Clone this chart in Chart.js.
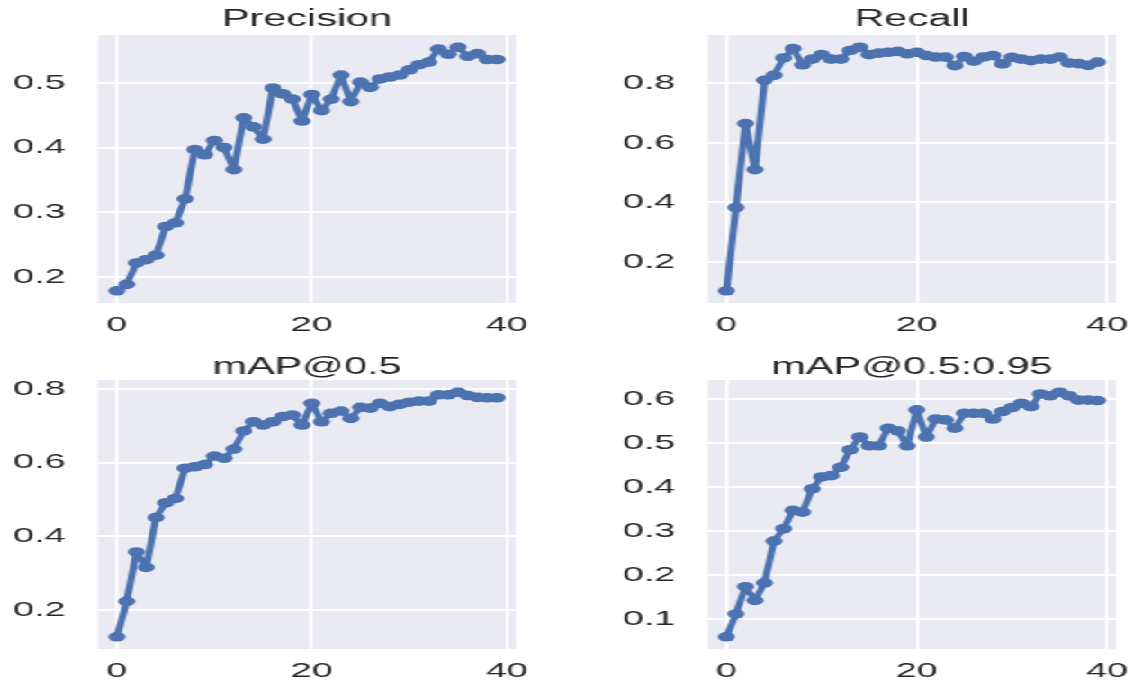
<!DOCTYPE html>
<html>
<head>
<meta charset="utf-8">
<script src="https://cdn.jsdelivr.net/npm/chart.js@4.4.1/dist/chart.umd.min.js"></script>
<style>
  body { margin: 0; background: #fff; }
  /* the reference figure is stretched sideways, so the whole stage is too */
  #stage { position: absolute; left: 0; top: 0; width: 637px; height: 684px; transform: scaleX(1.8); transform-origin: 0 0; }
  canvas { position: absolute; }
</style>
</head>
<body>
<div id="stage">
  <canvas id="c0" width="318" height="342" style="left:0;top:0"></canvas>
  <canvas id="c1" width="319" height="342" style="left:318px;top:0"></canvas>
  <canvas id="c2" width="318" height="342" style="left:0;top:342px"></canvas>
  <canvas id="c3" width="319" height="342" style="left:318px;top:342px"></canvas>
</div>
<script>
const precision = [0.179, 0.189, 0.222, 0.227, 0.234, 0.278, 0.284, 0.321, 0.397, 0.389,
  0.411, 0.400, 0.366, 0.446, 0.432, 0.413, 0.492, 0.483, 0.475, 0.441,
  0.482, 0.457, 0.475, 0.512, 0.471, 0.501, 0.493, 0.506, 0.509, 0.512,
  0.520, 0.528, 0.532, 0.552, 0.544, 0.555, 0.541, 0.545, 0.536, 0.536];
const recall = [0.104, 0.383, 0.664, 0.510, 0.809, 0.826, 0.884, 0.915, 0.861, 0.880,
  0.895, 0.880, 0.880, 0.909, 0.920, 0.895, 0.900, 0.903, 0.906, 0.898,
  0.903, 0.892, 0.887, 0.887, 0.858, 0.889, 0.873, 0.887, 0.892, 0.864,
  0.886, 0.880, 0.875, 0.880, 0.880, 0.887, 0.867, 0.865, 0.859, 0.870];
const map50 = [0.128, 0.224, 0.358, 0.316, 0.451, 0.491, 0.503, 0.585, 0.589, 0.595,
  0.618, 0.612, 0.637, 0.686, 0.711, 0.702, 0.711, 0.725, 0.729, 0.702,
  0.761, 0.711, 0.734, 0.740, 0.720, 0.750, 0.748, 0.761, 0.752, 0.758,
  0.764, 0.767, 0.767, 0.784, 0.784, 0.791, 0.782, 0.777, 0.776, 0.776];
const map5095 = [0.059, 0.111, 0.173, 0.142, 0.182, 0.277, 0.305, 0.347, 0.343, 0.396,
  0.423, 0.426, 0.445, 0.485, 0.514, 0.494, 0.494, 0.534, 0.528, 0.494,
  0.576, 0.514, 0.555, 0.553, 0.534, 0.568, 0.568, 0.568, 0.555, 0.572,
  0.581, 0.591, 0.583, 0.612, 0.608, 0.616, 0.608, 0.598, 0.598, 0.597];
const titles = ["Precision", "Recall", "mAP@0.5", "mAP@0.5:0.95"];
const xTicks = [0, 20, 40];

const FONT = '"Liberation Sans", Arial, sans-serif';
const BLUE = "#4C72B0";
const TEXT = "#262626";

// seaborn darkgrid panel background
const panelBg = {
  id: "panelBg",
  beforeDraw(chart) {
    const { ctx, chartArea: a } = chart;
    ctx.save();
    ctx.fillStyle = "#EAEAF2";
    ctx.fillRect(a.left, a.top, a.right - a.left, a.bottom - a.top);
    ctx.restore();
  },
};

// matplotlib centres the title over the axes, not over the whole canvas
const panelTitle = {
  id: "panelTitle",
  afterDraw(chart, args, opts) {
    const { ctx, chartArea: a } = chart;
    ctx.save();
    ctx.font = `23px ${FONT}`;
    ctx.fillStyle = TEXT;
    ctx.textAlign = "center";
    ctx.textBaseline = "alphabetic";
    ctx.fillText(opts.text, (a.left + a.right) / 2, opts.y);
    ctx.restore();
  },
};

function makePanel(id, title, values, step, yW, padR, padT, xH, titleY) {
  const lo = Math.min(...values), hi = Math.max(...values);
  const m = (hi - lo) * 0.05;
  new Chart(document.getElementById(id), {
    type: "line",
    data: {
      datasets: [{
        data: values.map((v, i) => ({ x: i, y: v })),
        borderColor: BLUE,
        backgroundColor: BLUE,
        pointBackgroundColor: BLUE,
        borderWidth: 4,
        borderJoinStyle: "round",
        borderCapStyle: "round",
        pointRadius: 4.8,
        pointBorderWidth: 0,
        tension: 0,
      }],
    },
    options: {
      responsive: false,
      animation: false,
      layout: { padding: { left: 0, right: padR, top: padT, bottom: 0 } },
      plugins: {
        legend: { display: false },
        tooltip: { enabled: false },
        title: { display: false },
        panelTitle: { text: title, y: titleY },
      },
      scales: {
        x: {
          type: "linear",
          min: xTicks[0] - 1.95,
          max: xTicks[2] + 0.95,
          border: { display: false },
          grid: { color: "#fff", lineWidth: 1.7, drawTicks: false },
          ticks: {
            stepSize: xTicks[1] - xTicks[0],
            includeBounds: false,
            maxRotation: 0,
            color: TEXT,
            font: { family: FONT, size: 21 },
            padding: 10,
          },
          afterFit: (s) => { s.height = xH; },
        },
        y: {
          min: lo - m,
          max: hi + m,
          border: { display: false },
          grid: { color: "#fff", lineWidth: 2, drawTicks: false },
          ticks: {
            stepSize: step,
            includeBounds: false,
            color: TEXT,
            font: { family: FONT, size: 21 },
            padding: 18,
          },
          afterFit: (s) => { s.width = yW; },
        },
      },
    },
    plugins: [panelBg, panelTitle],
  });
}

makePanel("c0", titles[0], precision, 0.1, 54.4, 31.3, 35, 39, 26);
makePanel("c1", titles[1], recall, 0.2, 75.3, 10.3, 35, 39, 26);
makePanel("c2", titles[2], map50, 0.2, 54.4, 31.3, 38, 35, 32);
makePanel("c3", titles[3], map5095, 0.1, 75.3, 10.3, 38, 35, 32);
</script>
</body>
</html>
